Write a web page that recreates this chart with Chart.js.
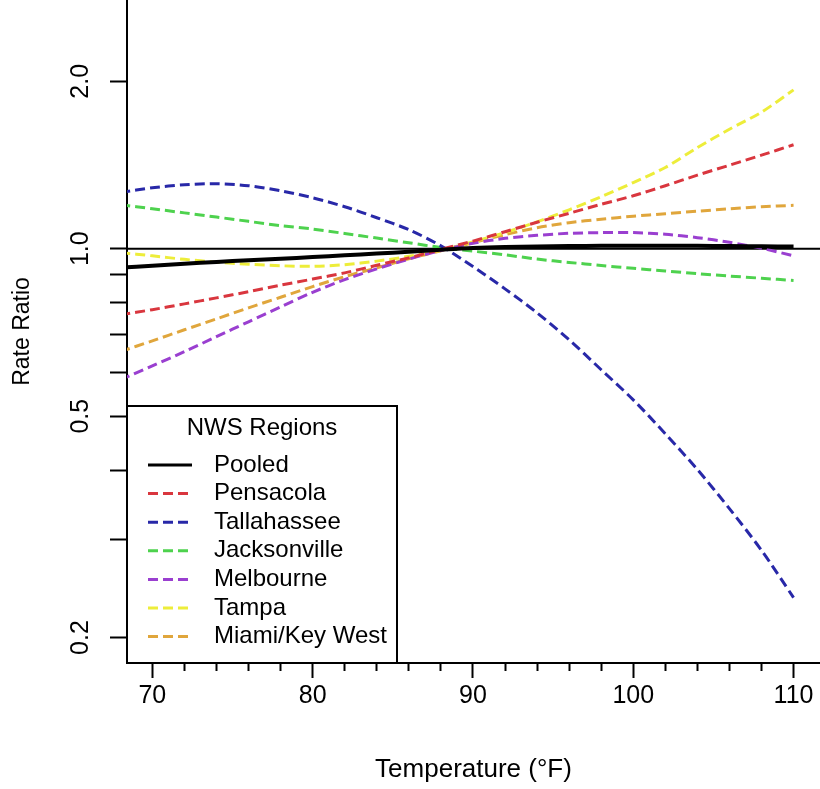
<!DOCTYPE html>
<html>
<head>
<meta charset="utf-8">
<title>Rate ratio by temperature, NWS regions</title>
<script src="https://cdn.jsdelivr.net/npm/chart.js@4.4.1/dist/chart.umd.min.js"></script>
<style>
  html, body { margin: 0; padding: 0; background: #fff; }
</style>
</head>
<body>
<canvas id="rrChart" width="820" height="789"></canvas>
<script>
// Temperatures (deg F) at which each curve is sampled
const temps = [68, 70, 72, 74, 76, 78, 80, 82, 84, 86, 88, 90, 92, 94, 96, 98, 100, 102, 104, 106, 108, 110];

// Rate ratios, one array per region
const pooled = [0.925, 0.932, 0.94, 0.947, 0.953, 0.959, 0.966, 0.973, 0.98, 0.988, 0.996, 1.003, 1.007, 1.009, 1.011, 1.012, 1.012, 1.012, 1.012, 1.011, 1.01, 1.009];
const pensacola = [0.761, 0.777, 0.796, 0.816, 0.837, 0.86, 0.882, 0.905, 0.934, 0.963, 0.997, 1.032, 1.073, 1.116, 1.158, 1.202, 1.245, 1.298, 1.356, 1.413, 1.473, 1.538];
const tallahassee = [1.262, 1.287, 1.303, 1.309, 1.298, 1.271, 1.235, 1.19, 1.137, 1.082, 1.012, 0.929, 0.847, 0.767, 0.686, 0.606, 0.535, 0.465, 0.401, 0.341, 0.287, 0.236];
const jacksonville = [1.2, 1.18, 1.16, 1.14, 1.12, 1.1, 1.085, 1.065, 1.045, 1.025, 1.005, 0.99, 0.975, 0.958, 0.945, 0.933, 0.922, 0.912, 0.902, 0.893, 0.885, 0.877];
const melbourne = [0.581, 0.616, 0.653, 0.695, 0.739, 0.786, 0.835, 0.88, 0.92, 0.958, 0.993, 1.023, 1.044, 1.057, 1.066, 1.069, 1.069, 1.062, 1.047, 1.027, 1.002, 0.971];
const tampa = [0.984, 0.971, 0.957, 0.946, 0.938, 0.932, 0.93, 0.936, 0.95, 0.969, 0.994, 1.029, 1.069, 1.118, 1.175, 1.24, 1.315, 1.4, 1.52, 1.64, 1.76, 1.93];
const miami = [0.653, 0.683, 0.715, 0.748, 0.783, 0.818, 0.855, 0.891, 0.924, 0.959, 0.992, 1.025, 1.06, 1.091, 1.114, 1.13, 1.144, 1.156, 1.168, 1.18, 1.19, 1.197];

const regions = ["Pooled", "Pensacola", "Tallahassee", "Jacksonville", "Melbourne", "Tampa", "Miami/Key West"];
const series = [pooled, pensacola, tallahassee, jacksonville, melbourne, tampa, miami];
const colors = ["#000000", "#d9363e", "#2828a8", "#4ed24e", "#9a3fd0", "#eded3a", "#e0a63c"];

// Axes
const xRange = [68.42, 111.65];
const yRange = [0.18, 2.8];
const xMajorTicks = [70, 80, 90, 100, 110];
const xMinorTicks = [72, 74, 76, 78, 82, 84, 86, 88, 92, 94, 96, 98, 102, 104, 106, 108];
const yTicks = [0.2, 0.3, 0.4, 0.5, 0.6, 0.7, 0.8, 0.9, 1.0, 2.0];
const yLabelled = [0.2, 0.5, 1.0, 2.0];
const refLevel = 1.0;

Chart.defaults.font.family = "'Liberation Sans', Arial, Helvetica, sans-serif";
Chart.defaults.color = "#000";

function toPoints(values) {
  return temps.map((t, i) => ({ x: t, y: values[i] }));
}

const datasets = regions.map((name, i) => ({
  label: name,
  data: toPoints(series[i]),
  borderColor: colors[i],
  borderWidth: i === 0 ? 4 : 3,
  borderDash: i === 0 ? [] : [10, 5],
  pointRadius: 0,
  tension: 0.3,
  fill: false,
}));

// horizontal reference at RR = 1
datasets.push({
  label: "ref",
  data: [{ x: xRange[0], y: refLevel }, { x: xRange[1], y: refLevel }],
  borderColor: "#000",
  borderWidth: 2,
  pointRadius: 0,
  fill: false,
  skipLegend: true,
});

const whiteBg = {
  id: "whiteBg",
  beforeDraw(chart) {
    const { ctx, width, height } = chart;
    ctx.save();
    ctx.fillStyle = "#fff";
    ctx.fillRect(0, 0, width, height);
    ctx.restore();
  },
};

// boxed legend sitting in the lower-left corner of the plot
const boxLegend = {
  id: "boxLegend",
  afterDraw(chart) {
    const { ctx, chartArea } = chart;
    const left = chartArea.left;
    const bottom = chartArea.bottom;
    const right = left + 270;
    const top = bottom - 257;
    ctx.save();
    ctx.fillStyle = "#fff";
    ctx.fillRect(left, top, right - left, bottom - top);
    ctx.strokeStyle = "#000";
    ctx.lineWidth = 2;
    ctx.strokeRect(left, top, right - left, bottom - top);

    ctx.font = "24px 'Liberation Sans', Arial, sans-serif";
    ctx.fillStyle = "#000";
    ctx.textAlign = "center";
    ctx.textBaseline = "middle";
    ctx.fillText("NWS Regions", (left + right) / 2, top + 22);

    ctx.textAlign = "left";
    const items = chart.data.datasets.filter((d) => !d.skipLegend);
    items.forEach((d, i) => {
      const y = top + 59 + i * 28.6;
      ctx.beginPath();
      ctx.setLineDash(d.borderDash || []);
      ctx.strokeStyle = d.borderColor;
      ctx.lineWidth = 3;
      ctx.moveTo(left + 21, y);
      ctx.lineTo(left + 65, y);
      ctx.stroke();
      ctx.setLineDash([]);
      ctx.fillText(d.label, left + 87, y);
    });
    ctx.restore();
  },
};

new Chart(document.getElementById("rrChart"), {
  type: "line",
  data: { datasets: datasets },
  options: {
    responsive: false,
    animation: false,
    devicePixelRatio: 1,
    layout: { padding: 0, autoPadding: false },
    plugins: {
      legend: { display: false },
      tooltip: { enabled: false },
    },
    scales: {
      x: {
        type: "linear",
        position: "bottom",
        weight: 1,
        min: xRange[0],
        max: xRange[1],
        afterBuildTicks: (scale) => {
          scale.ticks = xMajorTicks.map((v) => ({ value: v }));
        },
        afterFit: (scale) => {
          scale.height = 126;
          scale.paddingLeft = 0;
          scale.paddingRight = 0;
        },
        ticks: {
          font: { size: 25 },
          padding: 3,
          maxRotation: 0,
          autoSkip: false,
          callback: (v) => String(v),
        },
        grid: {
          drawOnChartArea: false,
          tickLength: 15,
          tickWidth: 2,
          tickColor: "#000",
        },
        border: { display: true, color: "#000", width: 2 },
        title: {
          display: true,
          text: "Temperature (\u00B0F)",
          font: { size: 26 },
          padding: { top: 0, bottom: 4 },
        },
      },
      xMinor: {
        type: "linear",
        position: "bottom",
        weight: 0,
        min: xRange[0],
        max: xRange[1],
        afterBuildTicks: (scale) => {
          scale.ticks = xMinorTicks.map((v) => ({ value: v }));
        },
        afterFit: (scale) => {
          scale.height = 0;
          scale.paddingLeft = 0;
          scale.paddingRight = 0;
        },
        ticks: { display: false },
        grid: {
          drawOnChartArea: false,
          tickLength: 8,
          tickWidth: 2,
          tickColor: "#000",
        },
        border: { display: false },
      },
      y: {
        type: "logarithmic",
        position: "left",
        min: yRange[0],
        max: yRange[1],
        afterBuildTicks: (scale) => {
          scale.ticks = yTicks.map((v) => ({ value: v }));
        },
        afterFit: (scale) => {
          scale.width = 127;
          scale.paddingTop = 0;
          scale.paddingBottom = 0;
        },
        ticks: {
          font: { size: 25 },
          minRotation: 90,
          maxRotation: 90,
          crossAlign: "center",
          padding: 12,
          autoSkip: false,
          callback: (v) => (yLabelled.includes(v) ? v.toFixed(1) : ""),
        },
        grid: {
          drawOnChartArea: false,
          tickLength: 17,
          tickWidth: 2,
          tickColor: "#000",
        },
        border: { display: true, color: "#000", width: 2 },
        title: {
          display: true,
          text: "Rate Ratio",
          font: { size: 23 },
          padding: { top: 9, bottom: 0 },
        },
      },
    },
  },
  plugins: [whiteBg, boxLegend],
});
</script>
</body>
</html>
